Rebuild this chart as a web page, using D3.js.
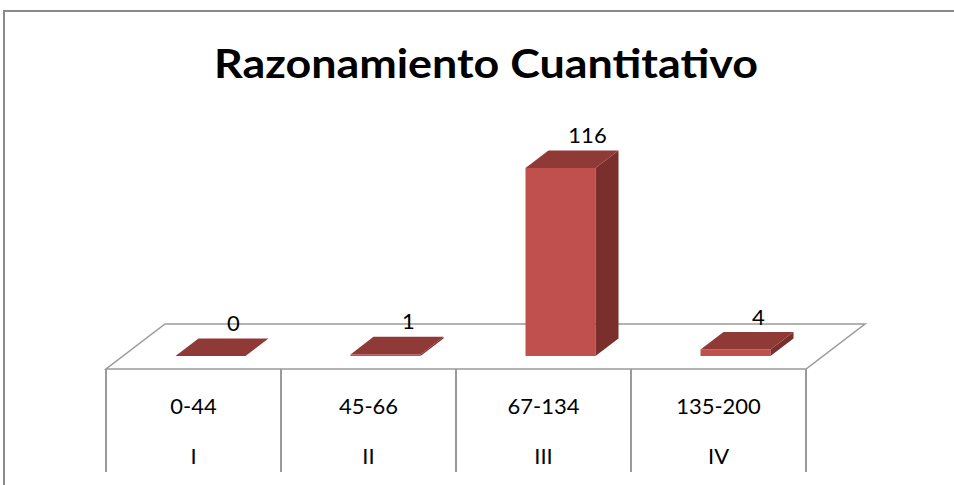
<!DOCTYPE html>
<html>
<head>
<meta charset="utf-8">
<script src="https://cdn.jsdelivr.net/npm/d3@7"></script>
<style>
 body { margin: 0; background: #fff; }
 svg text { font-family: Lato, "Open Sans", sans-serif; fill: #000; }
</style>
</head>
<body>
<div id="chart"></div>
<script>
var w = 954;
var h = 485;

// data
var ranges = ["0-44", "45-66", "67-134", "135-200"];
var levels = ["I", "II", "III", "IV"];
var values = [0, 1, 116, 4];
var title = "Razonamiento Cuantitativo";

var svg = d3.select("#chart")
 .append("svg")
 .attr("width", w)
 .attr("height", h);

// outer frame
svg.append("rect")
 .attr("x", 4).attr("y", 11)
 .attr("width", 980).attr("height", 520)
 .attr("fill", "none")
 .attr("stroke", "#8a8a8a")
 .attr("stroke-width", 2);

var t = svg.append("text")
 .attr("x", 486).attr("y", 78)
 .attr("text-anchor", "middle")
 .style("font-size", "41px")
 .style("font-weight", "bold")
 .text(title);
// squeeze to the narrow title width of the original
t.attr("textLength", 544).attr("lengthAdjust", "spacingAndGlyphs");

// 3d floor geometry
var floorY = 369;
var depth = 59;              // full floor depth, in x px
var slope = 45 / 59;         // y rise per x px of depth
var x = d3.scaleBand().domain(ranges).range([106, 806]).padding(0);
var y = d3.scaleLinear().domain([0, 116]).range([0, 188]);

function pt(px, d, hh) {
 return [px + d, floorY - d * slope - hh];
}

var floor = [pt(106, 0, 0), pt(806, 0, 0), pt(806, depth, 0), pt(106, depth, 0)];
svg.append("polygon")
 .attr("points", floor.join(" "))
 .attr("fill", "#fff")
 .attr("stroke", "#9a9a9a")
 .attr("stroke-width", 1.5);

// category grid lines below the floor
var edges = ranges.map(function(r) { return x(r); }).concat([x.range()[1]]);
svg.selectAll("line.grid")
 .data(edges)
 .enter()
 .append("line")
 .attr("class", "grid")
 .attr("x1", function(d) { return d; })
 .attr("x2", function(d) { return d; })
 .attr("y1", floorY)
 .attr("y2", 472)
 .attr("stroke", "#9a9a9a")
 .attr("stroke-width", 2);

svg.selectAll("text.range")
 .data(ranges)
 .enter()
 .append("text")
 .attr("class", "range")
 .attr("x", function(d) { return x(d) + x.bandwidth() / 2; })
 .attr("y", 405)
 .attr("text-anchor", "middle")
 .attr("dominant-baseline", "central")
 .style("font-size", "22px")
 .text(function(d) { return d; });

svg.selectAll("text.level")
 .data(levels)
 .enter()
 .append("text")
 .attr("class", "level")
 .attr("x", function(d, i) { return x(ranges[i]) + x.bandwidth() / 2; })
 .attr("y", 455)
 .attr("text-anchor", "middle")
 .attr("dominant-baseline", "central")
 .style("font-size", "22px")
 .text(function(d) { return d; });

// bars
var barW = 70, d0 = 17, d1 = 40;
var bars = svg.selectAll("g.bar")
 .data(values)
 .enter()
 .append("g")
 .attr("class", "bar");

function left(i) { return x(ranges[i]) + x.bandwidth() / 2 - barW / 2; }

bars.append("polygon") // front
 .attr("points", function(v, i) {
   var l = left(i), hh = y(v);
   return [pt(l, d0, 0), pt(l + barW, d0, 0), pt(l + barW, d0, hh), pt(l, d0, hh)].join(" ");
 })
 .attr("fill", "#c0504d");

bars.append("polygon") // side
 .attr("points", function(v, i) {
   var l = left(i) + barW, hh = y(v);
   return [pt(l, d0, 0), pt(l, d1, 0), pt(l, d1, hh), pt(l, d0, hh)].join(" ");
 })
 .attr("fill", "#7b2f2d");

bars.append("polygon") // top
 .attr("points", function(v, i) {
   var l = left(i), hh = y(v);
   return [pt(l, d0, hh), pt(l + barW, d0, hh), pt(l + barW, d1, hh), pt(l, d1, hh)].join(" ");
 })
 .attr("fill", "#903a38");

bars.append("text")
 .attr("x", function(v, i) { return pt(left(i) + barW / 2, d1, y(v))[0] + (v > 100 ? 4 : 0); })
 .attr("y", function(v, i) { return pt(left(i) + barW / 2, d1, y(v))[1] - 16; })
 .attr("text-anchor", "middle")
 .attr("dominant-baseline", "central")
 .style("font-size", "22px")
 .text(function(v) { return v; });
</script>
</body>
</html>
